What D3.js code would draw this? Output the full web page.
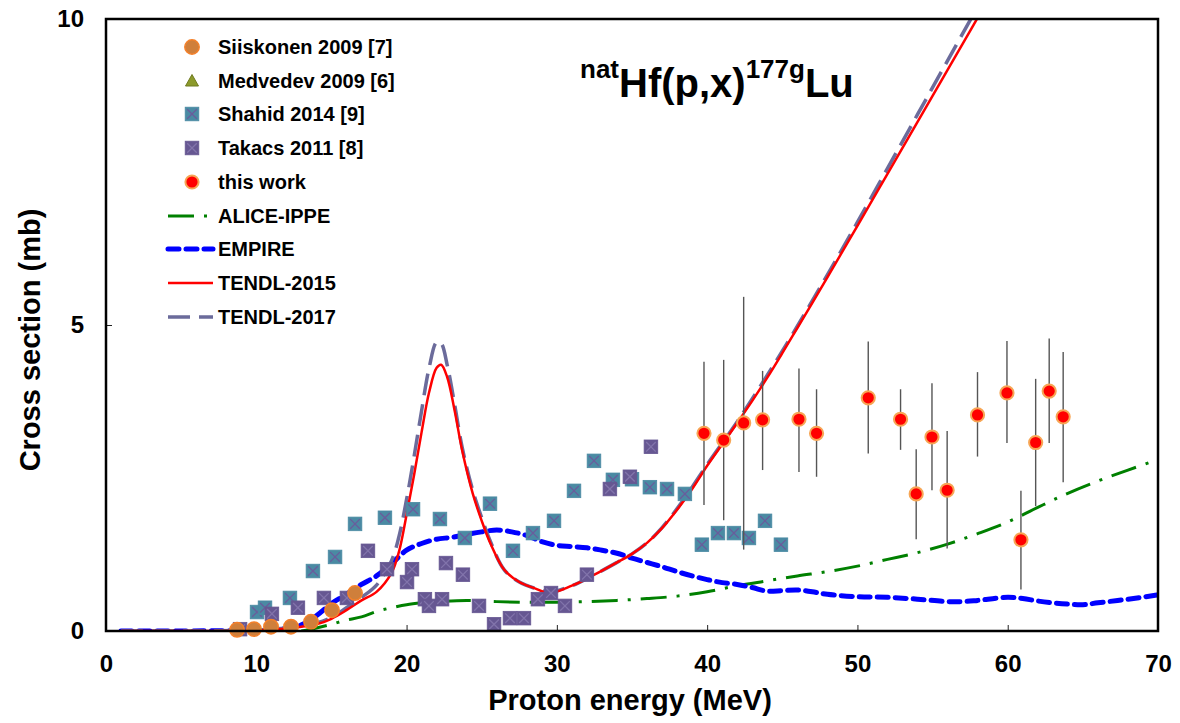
<!DOCTYPE html>
<html>
<head>
<meta charset="utf-8">
<script src="https://cdn.jsdelivr.net/npm/d3@7"></script>
<style>
  body { margin: 0; background: #fff; }
  svg text { font-family: "Liberation Sans", Arial, sans-serif; font-weight: bold; fill: #000; }
</style>
</head>
<body>
<svg id="chart" width="1180" height="723"></svg>
<script>
// --- data ---
const siiskonenE = [8.72, 9.85, 10.98, 12.31, 13.64, 15.04, 16.57]
const siiskonenXS = [0.02, 0.03, 0.07, 0.07, 0.15, 0.34, 0.62]

const medvedevE = []
const medvedevXS = []

const shahidE = [10.05, 10.58, 12.24, 13.77, 15.24, 16.57, 18.56, 20.43, 22.22, 23.88, 25.55, 27.08, 28.41, 29.81,
  31.14, 32.47, 33.73, 35.0, 36.19, 37.33, 38.52, 39.65, 40.72, 41.78, 42.78, 43.85, 44.91]
const shahidXS = [0.31, 0.38, 0.54, 0.98, 1.21, 1.75, 1.85, 1.99, 1.83, 1.52, 2.08, 1.31, 1.6, 1.8,
  2.29, 2.78, 2.47, 2.48, 2.35, 2.32, 2.24, 1.41, 1.6, 1.6, 1.52, 1.8, 1.41]

const takacsE = [8.92, 11.04, 12.77, 14.5, 16.03, 17.43, 18.7, 20.03, 20.36, 21.22, 21.49, 22.36, 22.62, 23.75,
  24.82, 25.82, 26.88, 27.81, 28.74, 29.61, 30.54, 32.0, 33.53, 34.86, 36.26]
const takacsXS = [0.03, 0.28, 0.38, 0.54, 0.54, 1.31, 1.01, 0.8, 1.01, 0.52, 0.41, 0.52, 1.11, 0.92,
  0.41, 0.11, 0.21, 0.21, 0.52, 0.62, 0.41, 0.92, 2.32, 2.52, 3.01]

const thisWorkE = [39.79, 41.1, 42.43, 43.69, 46.11, 47.28, 50.72, 52.87, 53.91, 54.96, 55.97, 57.99, 59.95, 60.88, 61.86, 62.76, 63.69]
const thisWorkXS = [3.23, 3.12, 3.4, 3.45, 3.46, 3.23, 3.81, 3.46, 2.24, 3.17, 2.3, 3.53, 3.89, 1.49, 3.08, 3.92, 3.5]
const thisWorkLo = [2.06, 1.81, 1.33, 2.63, 2.6, 2.52, 2.9, 2.96, 1.5, 2.3, 1.35, 2.85, 3.07, 0.68, 2.04, 3.07, 2.43]
const thisWorkHi = [4.4, 4.43, 5.46, 4.25, 4.29, 3.95, 4.73, 3.95, 2.97, 4.05, 3.27, 4.23, 4.74, 2.29, 4.12, 4.78, 4.56]

const aliceE = [13, 14, 15, 16, 17, 18, 19, 20, 21, 22, 24, 26, 28, 30, 32, 34, 36, 38, 40, 42, 44, 46, 48, 50, 52, 54, 56, 58, 60, 62, 64, 66, 68, 70]
const aliceXS = [0, 0.05, 0.11, 0.18, 0.23, 0.32, 0.38, 0.43, 0.46, 0.48, 0.5, 0.48, 0.47, 0.47, 0.48, 0.5, 0.53, 0.57, 0.64, 0.74,
  0.82, 0.9, 0.97, 1.06, 1.17, 1.28, 1.42, 1.59, 1.78, 2.02, 2.25, 2.45, 2.63, 2.8]

const empireE = [1, 5, 8, 10, 12, 13, 14, 15, 16, 17, 18, 19, 20, 21, 22, 23, 24, 25, 26, 27, 28, 29, 30, 31, 32, 33, 34, 35, 36, 37, 38, 39,
  40, 41, 42, 43, 44, 45, 46, 47, 48, 50, 52, 54, 56, 57, 58, 60, 61, 62, 63, 64, 65, 66, 68, 70]
const empireXS = [0, 0, 0.005, 0.01, 0.04, 0.1, 0.25, 0.45, 0.6, 0.76, 0.9, 1.1, 1.32, 1.43, 1.5, 1.53, 1.58, 1.62, 1.65, 1.62, 1.56, 1.46,
  1.4, 1.38, 1.36, 1.32, 1.27, 1.19, 1.12, 1.05, 0.97, 0.9, 0.84, 0.79, 0.76, 0.71, 0.65, 0.66, 0.67, 0.64, 0.6, 0.56, 0.55, 0.52,
  0.48, 0.48, 0.5, 0.55, 0.53, 0.49, 0.46, 0.44, 0.43, 0.46, 0.52, 0.59]

const tendl15E = [1, 6, 9, 11, 12, 13, 14, 15, 16, 17, 18, 19, 19.5, 20, 20.5, 21, 21.5, 22, 22.3, 22.7, 23.2, 23.7, 24.4, 25, 25.6,
  26.5, 27.5, 28.5, 29.5, 31, 32.5, 34, 35, 36, 37, 38, 39, 40, 41, 42, 43, 44, 45, 46, 47, 48, 50, 52, 54, 56, 58, 60]
const tendl15XS = [0, 0, 0.005, 0.02, 0.04, 0.07, 0.11, 0.2, 0.34, 0.5, 0.64, 0.95, 1.3, 1.9, 2.55, 3.25, 3.9, 4.3, 4.35, 4.15, 3.6,
  2.95, 2.25, 1.8, 1.42, 1.0, 0.8, 0.7, 0.62, 0.74, 0.92, 1.12, 1.26, 1.44, 1.68, 1.98, 2.32, 2.7, 3.05, 3.4, 3.76, 4.14, 4.54, 4.95,
  5.36, 5.78, 6.62, 7.47, 8.32, 9.17, 10.02, 10.87]

const tendl17E = [1, 6, 9, 11, 12, 13, 14, 15, 16, 17, 18, 19, 19.5, 20, 20.5, 21, 21.5, 22, 22.3, 22.7, 23.2, 23.7, 24.4, 25, 25.6,
  26.5, 27.5, 28.5, 29.5, 31, 32.5, 34, 35, 36, 37, 38, 39, 40, 42, 44, 46, 48, 50, 52, 54, 56, 58]
const tendl17XS = [0, 0, 0.01, 0.03, 0.05, 0.08, 0.13, 0.22, 0.38, 0.55, 0.75, 1.15, 1.55, 2.15, 2.85, 3.6, 4.3, 4.72, 4.7, 4.35, 3.7,
  3.0, 2.3, 1.85, 1.45, 1.0, 0.8, 0.7, 0.64, 0.74, 0.92, 1.12, 1.26, 1.44, 1.69, 2.0, 2.35, 2.72, 3.42, 4.18, 4.98, 5.82, 6.68, 7.56, 8.44,
  9.32, 10.2]

const xTicks = [0, 10, 20, 30, 40, 50, 60, 70]
const yTicks = [0, 5, 10]

const legendLabels = ['Siiskonen 2009 [7]', 'Medvedev 2009 [6]', 'Shahid 2014 [9]', 'Takacs 2011 [8]', 'this work',
  'ALICE-IPPE', 'EMPIRE', 'TENDL-2015', 'TENDL-2017']

// --- setup ---
const svg = d3.select('#chart')
const plotL = 106, plotR = 1158, plotT = 19, plotB = 631

const x = d3.scaleLinear().domain([0, 70]).range([plotL, plotR])
const y = d3.scaleLinear().domain([0, 10]).range([plotB, plotT])

const zip = (a, b) => a.map((v, i) => [v, b[i]])

svg.append('defs').append('clipPath').attr('id', 'plot')
  .append('rect').attr('x', plotL).attr('y', plotT).attr('width', plotR - plotL).attr('height', plotB - plotT)

// axes
const xAxis = svg.append('g')
  .attr('transform', `translate(0,${plotB})`)
  .call(d3.axisBottom(x).tickValues(xTicks).tickSizeInner(-6).tickSizeOuter(0).tickPadding(24))
xAxis.select('.domain').remove()
xAxis.selectAll('line').attr('stroke', '#222')
xAxis.selectAll('text').style('font-size', '24px').attr('font-family', null)

const yAxis = svg.append('g')
  .attr('transform', `translate(${plotL},0)`)
  .call(d3.axisLeft(y).tickValues(yTicks).tickSizeInner(-6).tickSizeOuter(0).tickPadding(22))
yAxis.select('.domain').remove()
yAxis.selectAll('line').attr('stroke', '#222')
yAxis.selectAll('text').style('font-size', '24px').attr('font-family', null)

// model curves
const curves = svg.append('g').attr('clip-path', 'url(#plot)')
const line = d3.line().x(d => x(d[0])).y(d => y(d[1])).curve(d3.curveCatmullRom.alpha(0.5))

const styles = {
  alice: { stroke: '#008000', width: 3, dash: '26,10,3,10', cap: 'butt' },
  empire: { stroke: '#0000ff', width: 5, dash: '11,7', cap: 'round' },
  tendl15: { stroke: '#ff0000', width: 2.5, dash: null, cap: 'butt' },
  tendl17: { stroke: '#6b6b9b', width: 3.5, dash: '22,9', cap: 'butt' },
}

function drawCurve(data, s) {
  curves.append('path')
    .datum(data)
    .attr('d', line)
    .attr('fill', 'none')
    .attr('stroke', s.stroke)
    .attr('stroke-width', s.width)
    .attr('stroke-dasharray', s.dash)
    .attr('stroke-linecap', s.cap)
}
drawCurve(zip(aliceE, aliceXS), styles.alice)
drawCurve(zip(empireE, empireXS), styles.empire)
drawCurve(zip(tendl17E, tendl17XS), styles.tendl17)
drawCurve(zip(tendl15E, tendl15XS), styles.tendl15)

// markers
function squareX(g, cx, cy, fill, cross) {
  const h = 6.8
  g.append('rect').attr('x', cx - h).attr('y', cy - h).attr('width', 2 * h).attr('height', 2 * h)
    .attr('fill', fill).attr('stroke', fill).attr('stroke-width', 0.8)
  g.append('path').attr('d', `M${cx - h + 2},${cy - h + 2}L${cx + h - 2},${cy + h - 2}M${cx - h + 2},${cy + h - 2}L${cx + h - 2},${cy - h + 2}`)
    .attr('stroke', cross).attr('stroke-width', 1.3)
}
function drawShahid(g, cx, cy) { squareX(g, cx, cy, '#4a8aa3', '#6a5c9c') }
function drawTakacs(g, cx, cy) { squareX(g, cx, cy, '#665792', '#8274ab') }
function drawSiiskonen(g, cx, cy) {
  g.append('circle').attr('cx', cx).attr('cy', cy).attr('r', 7.2)
    .attr('fill', '#cf7f3b').attr('stroke', '#f4802a').attr('stroke-width', 1.5)
}
function drawThisWork(g, cx, cy) {
  g.append('circle').attr('cx', cx).attr('cy', cy).attr('r', 6.6)
    .attr('fill', '#ff0000').attr('stroke', '#f7a655').attr('stroke-width', 2)
}
function drawMedvedev(g, cx, cy) {
  g.append('path').attr('d', `M${cx},${cy - 6.5}L${cx + 6.5},${cy + 5}L${cx - 6.5},${cy + 5}Z`)
    .attr('fill', '#8c9a2b').attr('stroke', '#6f7a20').attr('stroke-width', 1)
}

const pts = svg.append('g')
zip(shahidE, shahidXS).forEach(d => drawShahid(pts, x(d[0]), y(d[1])))
zip(takacsE, takacsXS).forEach(d => drawTakacs(pts, x(d[0]), y(d[1])))
zip(medvedevE, medvedevXS).forEach(d => drawMedvedev(pts, x(d[0]), y(d[1])))
zip(siiskonenE, siiskonenXS).forEach(d => drawSiiskonen(pts, x(d[0]), y(d[1])))

// this work with error bars
pts.selectAll('line.err')
  .data(thisWorkE)
  .enter()
  .append('line')
  .attr('class', 'err')
  .attr('x1', d => x(d)).attr('x2', d => x(d))
  .attr('y1', (d, i) => y(thisWorkLo[i]))
  .attr('y2', (d, i) => y(thisWorkHi[i]))
  .attr('stroke', '#555')
  .attr('stroke-width', 1.4)
zip(thisWorkE, thisWorkXS).forEach(d => drawThisWork(pts, x(d[0]), y(d[1])))

// frame
svg.append('rect')
  .attr('x', plotL).attr('y', plotT).attr('width', plotR - plotL).attr('height', plotB - plotT)
  .attr('fill', 'none').attr('stroke', '#000').attr('stroke-width', 2.5)

// legend
const legendY = [47, 81, 114, 148, 182, 216, 249, 283, 317]
const lg = svg.append('g')
const markerFns = [drawSiiskonen, drawMedvedev, drawShahid, drawTakacs, drawThisWork]
markerFns.forEach((fn, i) => fn(lg, 192, legendY[i]))
const lineStyles = [styles.alice, styles.empire, styles.tendl15, styles.tendl17]
lineStyles.forEach((s, i) => {
  lg.append('line')
    .attr('x1', 168).attr('x2', 213)
    .attr('y1', legendY[5 + i]).attr('y2', legendY[5 + i])
    .attr('stroke', s.stroke).attr('stroke-width', s.width)
    .attr('stroke-dasharray', s.dash).attr('stroke-linecap', s.cap)
})
lg.selectAll('text')
  .data(legendLabels)
  .enter()
  .append('text')
  .attr('x', 218)
  .attr('y', (d, i) => legendY[i])
  .attr('dy', '0.36em')
  .style('font-size', '20px')
  .text(d => d)

// title
const title = svg.append('text').attr('x', 580).attr('y', 97).style('font-size', '40px')
title.append('tspan').attr('dy', -19).style('font-size', '26px').text('nat')
title.append('tspan').attr('dy', 19).text('Hf(p,x)')
title.append('tspan').attr('dy', -19).style('font-size', '26px').text('177g')
title.append('tspan').attr('dy', 19).text('Lu')

// axis titles
svg.append('text')
  .attr('x', (plotL + plotR) / 2 - 2)
  .attr('y', 710)
  .attr('text-anchor', 'middle')
  .style('font-size', '29px')
  .text('Proton energy (MeV)')

svg.append('text')
  .attr('transform', 'translate(40,340) rotate(-90)')
  .attr('text-anchor', 'middle')
  .style('font-size', '29px')
  .text('Cross section (mb)')
</script>
</body>
</html>
